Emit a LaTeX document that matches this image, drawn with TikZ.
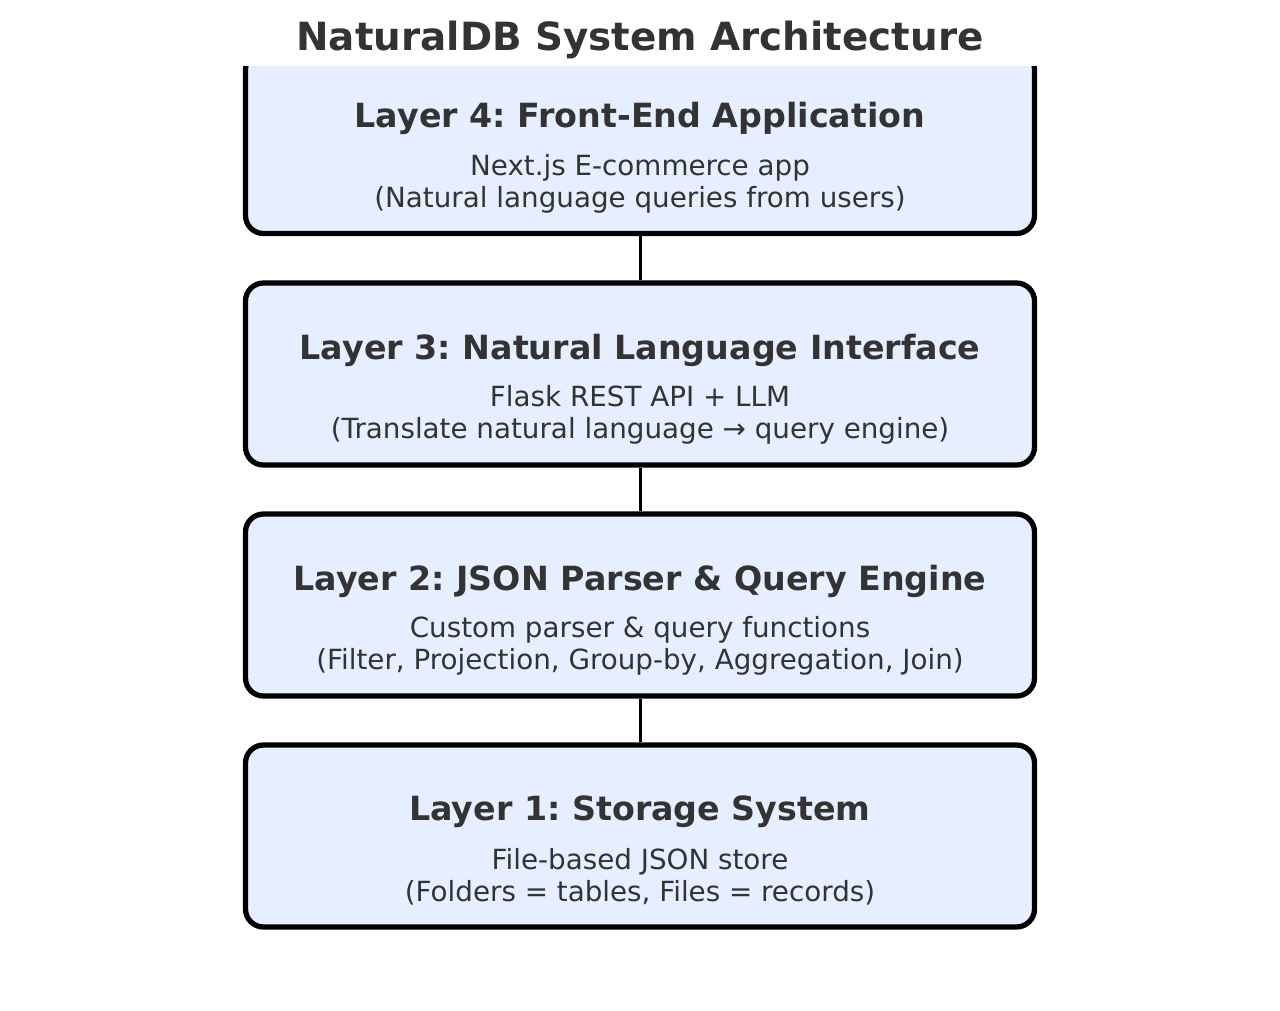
\documentclass[tikz,border=0pt]{standalone}
\usepackage{fontspec}
\setmainfont{DejaVu Sans}
\usetikzlibrary{positioning}
\frenchspacing
\definecolor{layerfill}{HTML}{E5EFFF}
\definecolor{textgray}{HTML}{333333}
\tikzset{
  layer/.style={shape=rectangle,draw=black,fill=layerfill,line width=3pt,rounded corners=0.36cm,minimum width=15.78cm,minimum height=3.64cm},
  layertitle/.style={text=textgray,font=\fontsize{18.95}{23}\selectfont\bfseries},
  layersub/.style={text=textgray,font=\fontsize{15.8}{18.2}\selectfont,align=center},
  link/.style={draw=black,line width=1.7pt}
}
\begin{document}
\begin{tikzpicture}
                \useasboundingbox (0,0) rectangle (25.6,-20.2);
                \node[text=textgray,font=\fontsize{22.1}{26}\selectfont\bfseries] (title) at (12.8,-0.8) {NaturalDB System Architecture};

                \begin{scope}
                \clip (0,-1.32) rectangle (25.6,-20.2);
                \node[layer] (l4) at (12.8,-2.85) {};
                \end{scope}
                \node[layer] (l3) at (12.8,-7.48) {};
                \node[layer] (l2) at (12.8,-12.1) {};
                \node[layer] (l1) at (12.8,-16.72) {};

                \node[layertitle] (t4) at ([yshift=0.48cm]l4.center) {Layer 4: Front-End Application};
                \node[layersub] (s4) at ([yshift=-0.82cm]l4.center) {Next.js E-commerce app\\(Natural language queries from users)};
                \node[layertitle] (t3) at ([yshift=0.48cm]l3.center) {Layer 3: Natural Language Interface};
                \node[layersub] (s3) at ([yshift=-0.82cm]l3.center) {Flask REST API + LLM\\(Translate natural language → query engine)};
                \node[layertitle] (t2) at ([yshift=0.48cm]l2.center) {Layer 2: JSON Parser \& Query Engine};
                \node[layersub] (s2) at ([yshift=-0.82cm]l2.center) {Custom parser \& query functions\\(Filter, Projection, Group-by, Aggregation, Join)};
                \node[layertitle] (t1) at ([yshift=0.48cm]l1.center) {Layer 1: Storage System};
                \node[layersub] (s1) at ([yshift=-0.82cm]l1.center) {File-based JSON store\\(Folders = tables, Files = records)};

                \path [link] (l4) edge (l3);
                \path [link] (l3) edge (l2);
                \path [link] (l2) edge (l1);
            \end{tikzpicture}
\end{document}
